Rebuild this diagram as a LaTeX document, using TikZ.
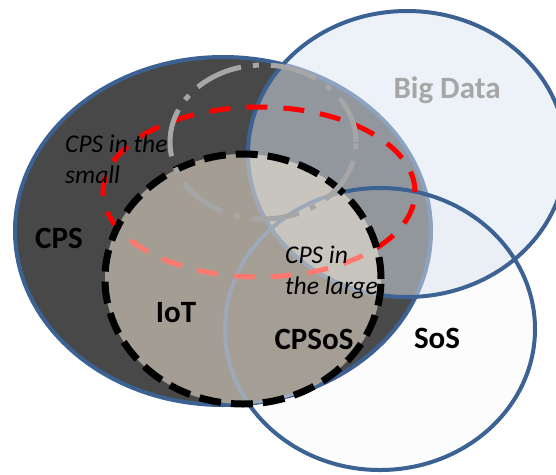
\documentclass[tikz,border=0pt]{standalone}
\usepackage{fontspec}
\setmainfont{Carlito}
\usepackage{xcolor}
\usepackage{tikz}

\definecolor{setblue}{RGB}{60,97,147}
\definecolor{cpsgray}{RGB}{72,72,72}
\definecolor{bigfill}{RGB}{220,230,242}
\definecolor{iotfill}{RGB}{255,242,224}
\definecolor{arcgray}{RGB}{166,166,166}

\begin{document}
\begin{tikzpicture}[x=1pt, y=-1pt,
	set/.style={draw=setblue, line width=4pt},
	big/.style={font=\fontsize{31}{31}\selectfont\bfseries, inner sep=0pt},
	small/.style={font=\fontsize{25.5}{31}\selectfont\itshape, align=left, inner sep=0pt, anchor=north west}]
	\useasboundingbox (0,0) rectangle (556,474);
	\clip (0,0) rectangle (556,474);
	% sets
	\draw[set, fill=cpsgray] (223,231) ellipse [x radius=208pt, y radius=174pt];
	\draw[set, fill=bigfill, fill opacity=0.5] (407,154) ellipse [x radius=159pt, y radius=143pt];
	\draw[set, fill=black!40, fill opacity=0.03] (380,329) ellipse [x radius=155pt, y radius=141pt];
	\draw[red, line width=5pt, dash pattern=on 21pt off 16pt] (259,192) ellipse [x radius=156pt, y radius=85pt];
	\fill[iotfill, fill opacity=0.5] (243,279) ellipse [x radius=138pt, y radius=125pt];
	\draw[black, line width=7pt, dash pattern=on 22pt off 10pt] (243,279) ellipse [x radius=138pt, y radius=125pt];
	\draw[arcgray, line width=5pt, dash pattern=on 48pt off 12pt on 6pt off 12pt] (263,142) ellipse [x radius=93pt, y radius=77pt];
	% labels
	\node[big, text=arcgray, anchor=base] (bigdata) at (447,98) {Big Data};
	\node[big] (cps) at (59,238) {CPS};
	\node[big] (iot) at (176,313) {IoT};
	\node[big] (cpsos) at (314,339) {CPSoS};
	\node[big] (sos) at (437,338) {SoS};
	\node[small] (insmall) at (65,135) {CPS in the\\small};
	\node[small] (inlarge) at (285,246) {CPS in\\the large};
\end{tikzpicture}
\end{document}
